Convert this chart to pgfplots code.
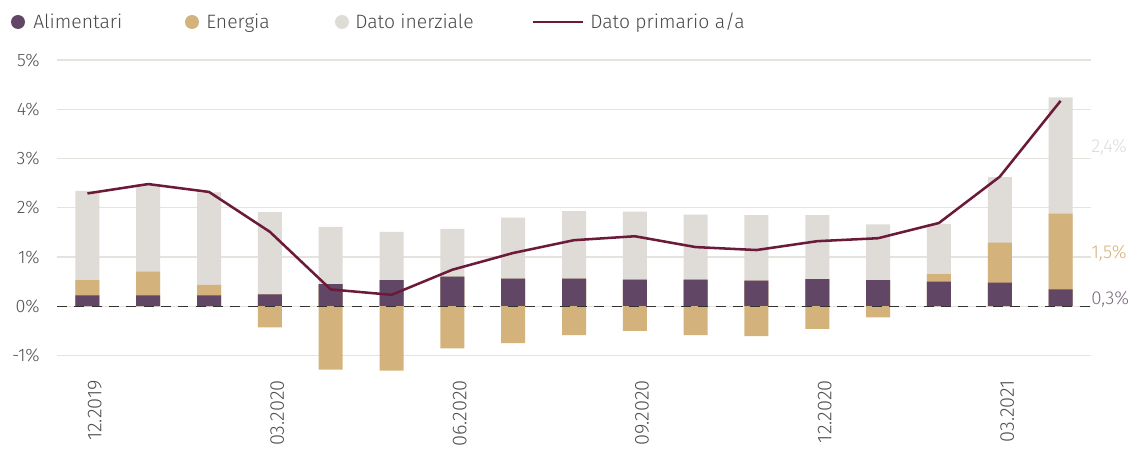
\documentclass[border=0pt]{standalone}
\usepackage{pgfplots}
\pgfplotsset{compat=1.18}
\usepackage{pgfplotstable}
\usepackage{fontspec}
\setmainfont{Fira Sans}[UprightFont={* Light}]
\definecolor{ali}{HTML}{614765}
\definecolor{ene}{HTML}{D3B37B}
\definecolor{ine}{HTML}{DFDBD7}
\definecolor{pri}{HTML}{6C1A3A}
\definecolor{gridc}{HTML}{E6E3DE}
\definecolor{txt}{HTML}{505050}
\definecolor{lab03}{HTML}{7A6C82}

\pgfplotstableread{
idx ali ene ine pri
0 0.22 0.31 1.81 2.29
1 0.22 0.48 1.78 2.48
2 0.22 0.21 1.88 2.32
3 0.24 -0.43 1.67 1.51
4 0.45 -1.29 1.16 0.34
5 0.53 -1.31 0.98 0.23
6 0.60 -0.86 0.97 0.74
7 0.56 -0.75 1.24 1.08
8 0.56 -0.59 1.37 1.34
9 0.54 -0.50 1.38 1.42
10 0.54 -0.59 1.32 1.20
11 0.52 -0.61 1.33 1.14
12 0.55 -0.46 1.30 1.32
13 0.53 -0.23 1.13 1.38
14 0.50 0.15 1.02 1.69
15 0.48 0.81 1.33 2.63
16 0.34 1.54 2.36 4.17
}\datatable

\begin{document}
\begin{tikzpicture}
\begin{axis}[
  at={(0,0)}, anchor=south west,
  width=775.5pt, height=240pt, scale only axis,
  xmin=-0.5, xmax=16.5, ymin=-1.5, ymax=5,
  axis line style={draw=none},
  tick style={draw=none},
  clip=false,
  xmajorgrids=false, ymajorgrids=true,
  major grid style={draw=gridc, line width=0.9pt},
  ytick={-1,0,1,2,3,4,5},
  yticklabels={-1\%,0\%,1\%,2\%,3\%,4\%,5\%},
  xtick={0,3,6,9,12,15},
  xticklabels={12.2019,03.2020,06.2020,09.2020,12.2020,03.2021},
  major tick length=0pt,
  yticklabel style={anchor=east, inner sep=0pt, xshift=-12.75pt, text=txt, font=\fontsize{13.5}{15}\selectfont},
  xticklabel style={rotate=90, anchor=east, inner sep=0pt, yshift=-5.5pt, text=txt, font=\fontsize{15}{17}\selectfont},
  ybar, bar width=18pt, bar shift=0pt,
]
\addplot[fill=ine, draw=none] table[x=idx, y expr={\thisrow{ali}+max(\thisrow{ene},0)+\thisrow{ine}}] {\datatable};
\addplot[fill=ene, draw=none] table[x=idx, y expr={\thisrow{ali}+max(\thisrow{ene},0)}] {\datatable};
\addplot[fill=ali, draw=none] table[x=idx, y=ali] {\datatable};
\addplot[fill=ene, draw=none] table[x=idx, y expr={min(\thisrow{ene},0)}] {\datatable};
\draw[black!80, line width=0.9pt, dash pattern=on 7.5pt off 5.5pt] (axis cs:-0.5,0) -- (axis cs:16.5,0);
\addplot[sharp plot, pri, line width=1.9pt, mark=none] table[x=idx, y=pri] {\datatable};
\node[anchor=west, inner sep=0pt, text=ine, font=\fontsize{14}{16}\selectfont] at (axis cs:16.5,3.22) {2,4\%};
\node[anchor=west, inner sep=0pt, text=ene, font=\fontsize{14}{16}\selectfont] at (axis cs:16.5,1.08) {1,5\%};
\node[anchor=west, inner sep=0pt, text=lab03, font=\fontsize{14}{16}\selectfont] at (axis cs:16.5,0.13) {0,3\%};
\end{axis}
\begin{scope}[x=0.75pt, y=-0.75pt, shift={(-57,-380)}]
  \fill[ali] (18,22) circle (7);
  \node[anchor=base west, inner sep=0pt, text=txt!90!black, font=\fontsize{14.5}{16}\selectfont] at (33,29) {Alimentari};
  \fill[ene] (192,22) circle (7);
  \node[anchor=base west, inner sep=0pt, text=txt!90!black, font=\fontsize{14.5}{16}\selectfont] at (206,29) {Energia};
  \fill[ine] (342,22) circle (7);
  \node[anchor=base west, inner sep=0pt, text=txt!90!black, font=\fontsize{14.5}{16}\selectfont] at (355,29) {Dato inerziale};
  \draw[pri, line width=1.9pt] (533,22) -- (583,22);
  \node[anchor=base west, inner sep=0pt, text=txt!90!black, font=\fontsize{14.5}{16}\selectfont] at (590,29) {Dato primario a/a};
  \pgfresetboundingbox
  \path[use as bounding box] (0,0) rectangle (1143,454);
\end{scope}
\end{tikzpicture}
\end{document}
